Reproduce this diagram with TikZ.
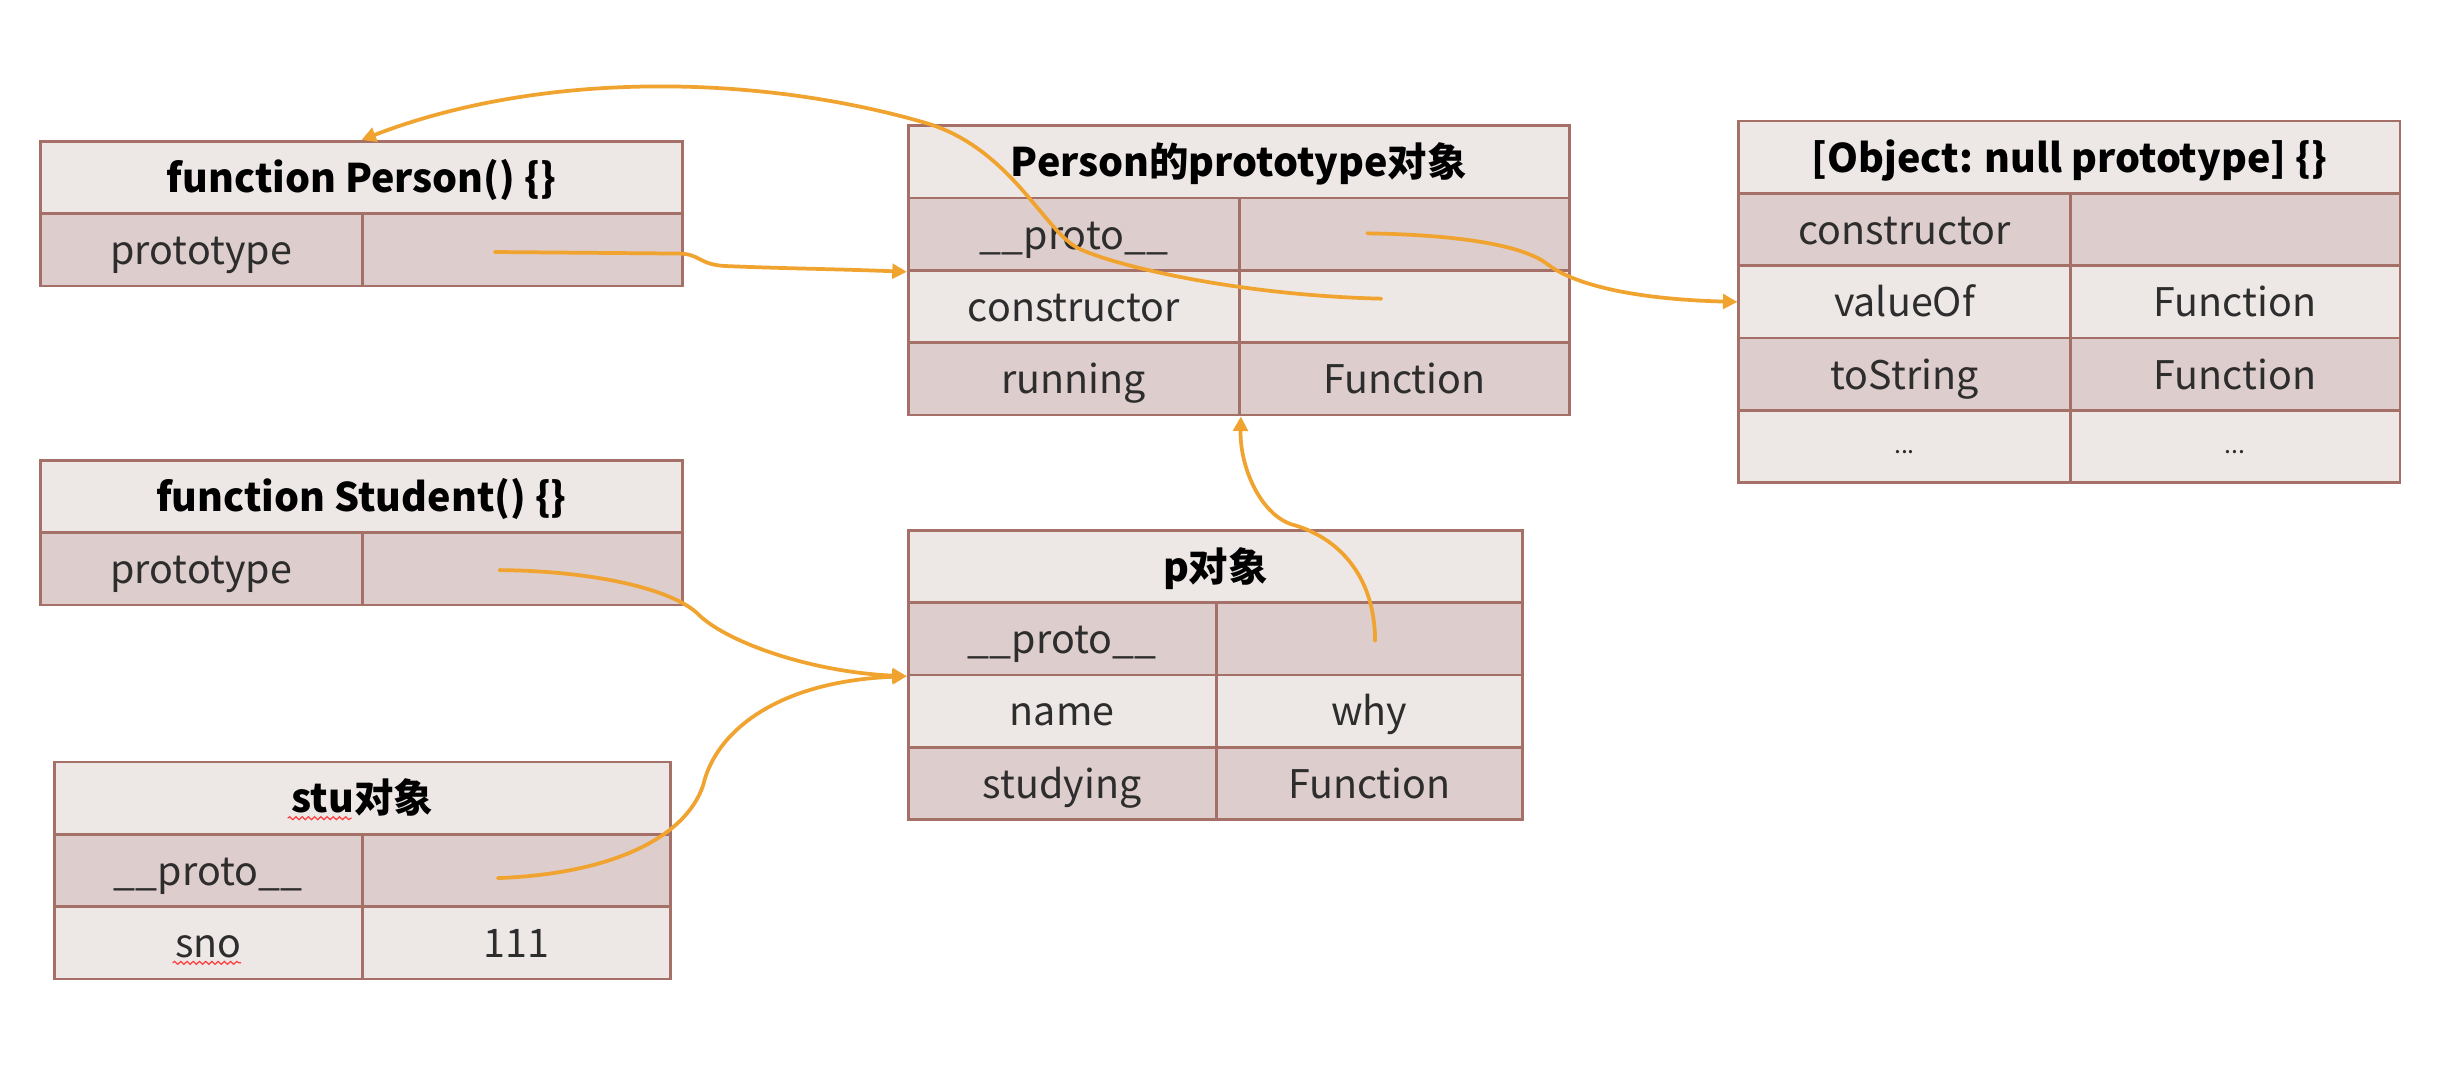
\documentclass[tikz,border=0pt]{standalone}
\usepackage{fontspec}
\setmainfont{Noto Sans CJK SC}
\usetikzlibrary{arrows.meta,decorations.pathmorphing}

\definecolor{cellpale}{RGB}{237,232,230}
\definecolor{cellrose}{RGB}{221,205,204}
\definecolor{cellline}{RGB}{165,112,104}
\definecolor{linkorange}{RGB}{240,163,46}
\definecolor{celltext}{RGB}{45,45,45}

\tikzset{every picture/.style={line width=0.75pt}}
\tikzset{
  tcell/.style={draw=cellline, line width=1.3pt, anchor=north west, inner sep=0pt, minimum height=34.875pt, text height=18pt, text depth=3.8pt, text=celltext, font=\fontsize{19}{22}\selectfont},
  hcell/.style={tcell, fill=cellpale, text=black, font=\fontsize{19}{22}\selectfont\bfseries},
  rosecell/.style={tcell, fill=cellrose},
  palecell/.style={tcell, fill=cellpale},
  link/.style={draw=linkorange, line width=1.8pt, line cap=round, -{Triangle[length=7pt,width=7pt]}},
  squig/.style={draw=red!75, line width=0.6pt, decorate, decoration={snake, amplitude=0.7pt, segment length=3pt}},
}
\newcommand{\moredots}{\raisebox{4pt}{\fontsize{12}{14}\selectfont ...}}

\begin{document}
\begin{tikzpicture}[x=0.75pt,y=0.75pt,yscale=-1,xscale=1]
\fill[white] (0,0) rectangle (1568,701);

%Table: function Person
\node[hcell, minimum width=309.75pt] (fp-h) at (25,90) {function Person() \{\}};
\node[rosecell, minimum width=155.25pt] (fp-k1) at (25,136.5) {prototype};
\node[rosecell, minimum width=154.5pt] (fp-v1) at (232,136.5) {};

%Table: Person prototype object
\node[hcell, minimum width=318.75pt] (pp-h) at (583,80) {Person的prototype对象};
\node[rosecell, minimum width=159.75pt] (pp-k1) at (583,126.5) {\_\_proto\_\_};
\node[rosecell, minimum width=159pt] (pp-v1) at (796,126.5) {};
\node[palecell, minimum width=159.75pt] (pp-k2) at (583,173) {constructor};
\node[palecell, minimum width=159pt] (pp-v2) at (796,173) {};
\node[rosecell, minimum width=159.75pt] (pp-k3) at (583,219.5) {running};
\node[rosecell, minimum width=159pt] (pp-v3) at (796,219.5) {Function};

%Table: null prototype object
\node[hcell, minimum width=318.75pt] (np-h) at (1117,77) {[Object: null prototype] \{\}};
\node[rosecell, minimum width=159.75pt] (np-k1) at (1117,123.5) {constructor};
\node[rosecell, minimum width=159pt] (np-v1) at (1330,123.5) {};
\node[palecell, minimum width=159.75pt] (np-k2) at (1117,170) {valueOf};
\node[palecell, minimum width=159pt] (np-v2) at (1330,170) {Function};
\node[rosecell, minimum width=159.75pt] (np-k3) at (1117,216.5) {toString};
\node[rosecell, minimum width=159pt] (np-v3) at (1330,216.5) {Function};
\node[palecell, minimum width=159.75pt] (np-k4) at (1117,263) {\moredots};
\node[palecell, minimum width=159pt] (np-v4) at (1330,263) {\moredots};

%Table: function Student
\node[hcell, minimum width=309.75pt] (fs-h) at (25,295) {function Student() \{\}};
\node[rosecell, minimum width=155.25pt] (fs-k1) at (25,341.5) {prototype};
\node[rosecell, minimum width=154.5pt] (fs-v1) at (232,341.5) {};

%Table: p object
\node[hcell, minimum width=296.25pt] (po-h) at (583,340) {p对象};
\node[rosecell, minimum width=148.5pt] (po-k1) at (583,386.5) {\_\_proto\_\_};
\node[rosecell, minimum width=147.75pt] (po-v1) at (781,386.5) {};
\node[palecell, minimum width=148.5pt] (po-k2) at (583,433) {name};
\node[palecell, minimum width=147.75pt] (po-v2) at (781,433) {why};
\node[rosecell, minimum width=148.5pt] (po-k3) at (583,479.5) {studying};
\node[rosecell, minimum width=147.75pt] (po-v3) at (781,479.5) {Function};

%Table: stu object
\node[hcell, minimum width=297pt] (so-h) at (34,489) {stu对象};
\node[rosecell, minimum width=148.5pt] (so-k1) at (34,535.5) {\_\_proto\_\_};
\node[rosecell, minimum width=148.5pt] (so-v1) at (232,535.5) {};
\node[palecell, minimum width=148.5pt] (so-k2) at (34,582) {sno};
\node[palecell, minimum width=148.5pt] (so-v2) at (232,582) {111};

%spell-check marks
\draw[squig] (185,526) -- (226,526);
\draw[squig] (111,619) -- (155,619);

%link start points
\coordinate (fp-s) at (318,162);
\coordinate (pp-s) at (888,192);
\coordinate (pp-t) at (879,150);
\coordinate (po-s) at (884,412);
\coordinate (fs-s) at (321,366.5);
\coordinate (so-s) at (320,564.5);

%Links
\draw[link] (fp-s) -- (436,163) .. controls (450,163) and (449,170) .. (466,171) .. controls (500,172.5) and (540,173) .. (pp-k1.south west);
\draw[link] (pp-s) .. controls (800,190) and (720,172) .. (694,160) .. controls (672,150) and (650,95) .. (595,79) .. controls (485,47) and (346,46) .. (fp-h.north);
\draw[link] (pp-t) .. controls (940,151) and (980,158) .. (995,170) .. controls (1008,180) and (1040,192) .. (np-k2.west);
\draw[link] (po-s) .. controls (884,370) and (860,345) .. (830,337) .. controls (810,330) and (797,300) .. (pp-k3.south east);
\draw[link] (fs-s) .. controls (380,367) and (430,378) .. (448,394) .. controls (465,412) and (520,432) .. (po-k1.south west);
\draw[link] (so-s) .. controls (390,562) and (440,540) .. (452,505) .. controls (460,470) and (500,438) .. (po-k1.south west);

\end{tikzpicture}
\end{document}
